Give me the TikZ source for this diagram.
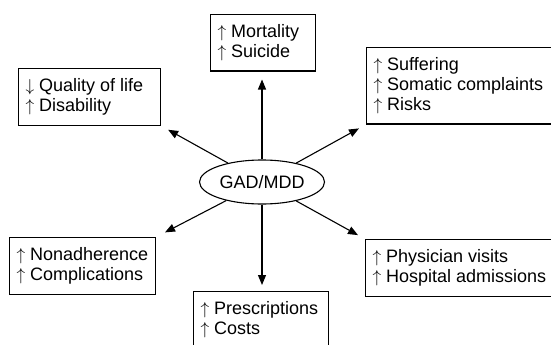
\documentclass[tikz,border=0pt]{standalone}
\usepackage{fontspec}
\setmainfont{Liberation Sans}
\usetikzlibrary{arrows.meta,shapes.geometric}
\newcommand\myup{$\uparrow$}
\newcommand\mydown{$\downarrow$}
\begin{document}
\begin{tikzpicture}[x=1pt,y=-1pt,
  every node/.style={font=\fontsize{18}{20}\selectfont},
  effect/.style={draw,line width=1.1pt,anchor=north west,align=flush left,
    inner xsep=7pt,inner ysep=10pt},
  conn/.style={line width=1.1pt,-{Triangle[length=10pt,width=8pt]}},
  centre/.style={draw,ellipse,line width=1.1pt,minimum width=125pt,
    minimum height=44pt,inner sep=0pt}]
\useasboundingbox[fill=white] (0,0) rectangle (551,345);
\node[centre] (g) at (262,182) {GAD/MDD};
\node[effect,text width=91pt] (mort) at (210,14) {\myup\ Mortality\\\myup\ Suicide};
\node[effect,text width=128pt] (qol) at (18,68) {\mydown\ Quality of life\\\myup\ Disability};
\node[effect,text width=190pt] (suff) at (366,47) {\myup\ Suffering\\\myup\ Somatic complaints\\\myup\ Risks};
\node[effect,text width=132pt] (nonad) at (9,237) {\myup\ Nonadherence\\\myup\ Complications};
\node[effect,text width=121pt] (presc) at (193,291) {\myup\ Prescriptions\\\myup\ Costs};
\node[effect,text width=190pt] (phys) at (365,239) {\myup\ Physician visits\\\myup\ Hospital admissions};
\draw[conn,shorten >=8pt] (g) -- (g |- mort.south);
\draw[conn,shorten >=6pt] (g) -- (g |- presc.north);
\draw[conn,shorten >=8pt] (g) -- (qol.south east);
\draw[conn,shorten >=8pt] (g) -- (suff.south west);
\draw[conn,shorten >=10pt] (g) -- (nonad.north east);
\draw[conn,shorten >=8pt] (g) -- (phys.north west);
\end{tikzpicture}
\end{document}
